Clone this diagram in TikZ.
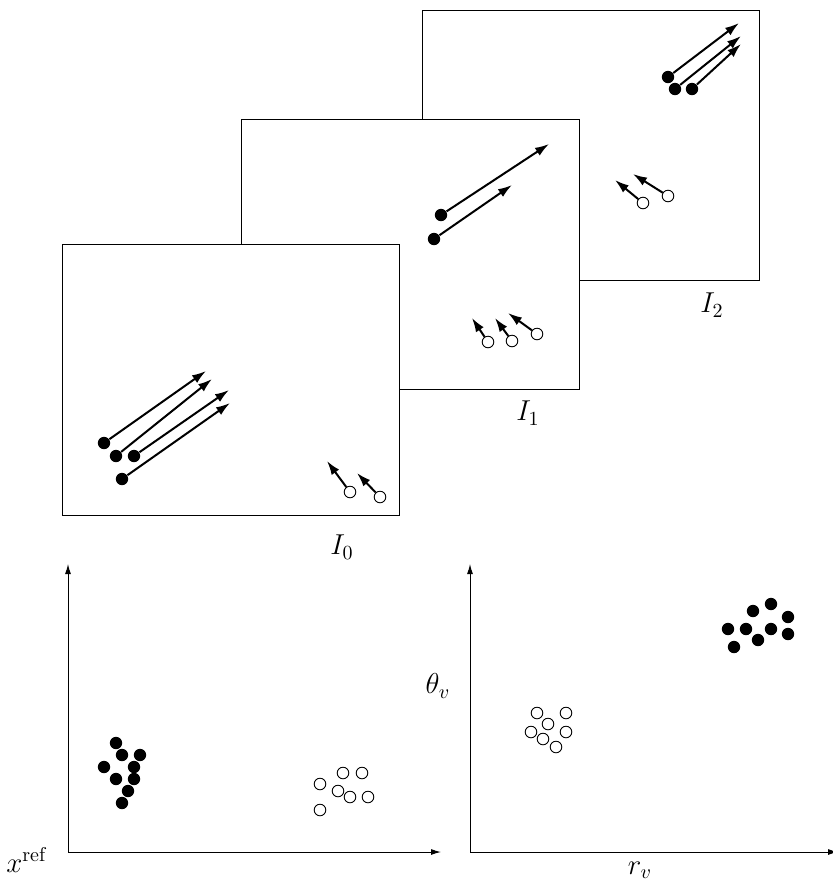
\documentclass[tikz,border=0pt]{standalone}
\usetikzlibrary{arrows.meta}
\begin{document}
\begin{tikzpicture}[x=0.5pt,y=-0.5pt,
  frame/.style={draw=black,fill=white,line width=0.45pt},
  fdot/.style={circle,fill=black,inner sep=0pt,minimum size=6.2pt},
  odot/.style={circle,draw=black,line width=0.45pt,fill=white,inner sep=0pt,minimum size=5.8pt},
  vec/.style={line width=1pt,-{Latex[length=7pt,width=4.6pt]}},
  axis/.style={line width=0.5pt,-{Latex[length=5pt,width=3pt]}},
  lbl/.style={font=\Large}]
\useasboundingbox (0,0) rectangle (833,890);
% frames
\path[frame] (422,10) rectangle (759,280);
\node[lbl] (l2) at (712,305) {$I_2$};
\path[frame] (241,119) rectangle (579,389);
\node[lbl] (l1) at (528,413) {$I_1$};
\path[frame] (62,244) rectangle (399,515);
\node[lbl] (l0) at (342,547) {$I_0$};
% I0 filled
\node[fdot] (a1) at (104,443) {};
\node[fdot] (a2) at (116,456) {};
\node[fdot] (a3) at (134,456) {};
\node[fdot] (a4) at (122,479) {};
\coordinate (ta1) at (206,371);
\coordinate (ta2) at (212,379);
\coordinate (ta3) at (229,390);
\coordinate (ta4) at (230,403);
\foreach \i in {1,2,3,4} \draw[vec] (a\i) -- (ta\i);
% I0 open
\node[odot] (b1) at (350,492) {};
\node[odot] (b2) at (380,497) {};
\coordinate (tb1) at (327,461);
\coordinate (tb2) at (357,473);
\foreach \i in {1,2} \draw[vec] (b\i) -- (tb\i);
% I1 filled
\node[fdot] (c1) at (441,215) {};
\node[fdot] (c2) at (434,239) {};
\coordinate (tc1) at (549,144);
\coordinate (tc2) at (512,185);
\foreach \i in {1,2} \draw[vec] (c\i) -- (tc\i);
% I1 open
\node[odot] (d1) at (488,342) {};
\node[odot] (d2) at (512,341) {};
\node[odot] (d3) at (537,334) {};
\coordinate (td1) at (472,318);
\coordinate (td2) at (495,318);
\coordinate (td3) at (508,313);
\foreach \i in {1,2,3} \draw[vec] (d\i) -- (td\i);
% I2 filled
\node[fdot] (e1) at (668,77) {};
\node[fdot] (e2) at (675,89) {};
\node[fdot] (e3) at (692,89) {};
\coordinate (te1) at (739,23);
\coordinate (te2) at (741,36);
\coordinate (te3) at (741,44);
\foreach \i in {1,2,3} \draw[vec] (e\i) -- (te\i);
% I2 open
\node[odot] (g1) at (643,203) {};
\node[odot] (g2) at (668,196) {};
\coordinate (tg1) at (615,180);
\coordinate (tg2) at (633,174);
\foreach \i in {1,2} \draw[vec] (g\i) -- (tg\i);
% axes left
\coordinate (o1) at (68,852);
\coordinate (y1) at (68,564);
\coordinate (x1) at (441,852);
\draw[axis] (o1) -- (y1);
\draw[axis] (o1) -- (x1);
\node[lbl] (xl) at (27,860) {$x^{\mathrm{ref}}$};
% axes right
\coordinate (o2) at (470,852);
\coordinate (y2) at (470,564);
\coordinate (x2) at (838,852);
\draw[axis] (o2) -- (y2);
\draw[axis] (o2) -- (x2);
\node[lbl] (tl) at (438,686) {$\theta_v$};
\node[lbl] (rl) at (640,870) {$r_v$};
% clusters
\foreach \x/\y [count=\k] in {116/743,122/755,140/755,104/767,134/767,116/779,134/779,128/791,122/803}
  \node[fdot] (p\k) at (\x,\y) {};
\foreach \x/\y [count=\k] in {343/773,362/773,320/784,338/791,350/797,368/797,320/810}
  \node[odot] (q\k) at (\x,\y) {};
\foreach \x/\y [count=\k] in {537/713,566/713,548/724,531/732,566/732,543/739,556/747}
  \node[odot] (s\k) at (\x,\y) {};
\foreach \x/\y [count=\k] in {753/611,771/604,788/617,728/629,746/629,771/629,788/634,758/640,734/647}
  \node[fdot] (u\k) at (\x,\y) {};
\end{tikzpicture}
\end{document}
